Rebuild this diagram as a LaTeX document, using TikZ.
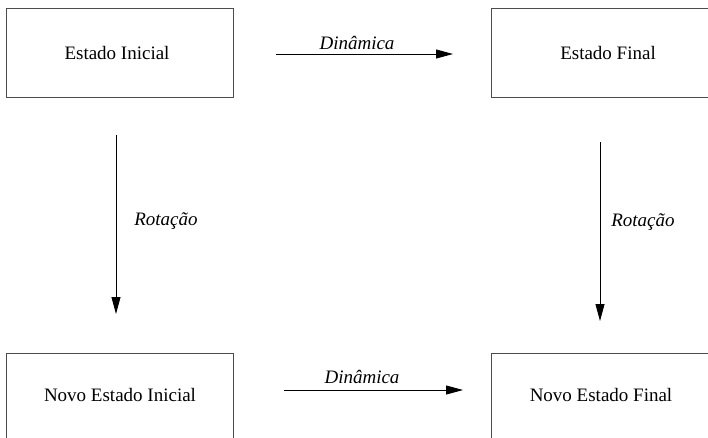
\documentclass[tikz,border=0pt]{standalone}
\usepackage{fontspec}
\setmainfont{Liberation Serif}
\usetikzlibrary{arrows.meta}
\begin{document}
\begin{tikzpicture}[x=1pt,y=-1pt,
  statebox/.style={draw=black!70, line width=1pt, rectangle, inner sep=0pt},
  boxtext/.style={font=\fontsize{19}{22}\selectfont, inner sep=0pt},
  flow/.style={line width=0.9pt, -{Triangle[length=17pt,width=9pt]}},
  lbl/.style={font=\fontsize{19}{22}\selectfont\itshape, inner sep=0pt}]
\useasboundingbox (0,0) rectangle (708,437);
\clip (0,0) rectangle (708,437);
\fill[white] (0,0) rectangle (708,437);
% boxes
\node[statebox, minimum width=227pt, minimum height=89pt] (ei) at (119.5,52.5) {};
\node[boxtext] (tei) at (117,53) {Estado Inicial};
\node[statebox, minimum width=234pt, minimum height=89pt] (ef) at (608,52.5) {};
\node[boxtext] (tef) at (608,53) {Estado Final};
\node[statebox, minimum width=227pt, minimum height=90pt] (nei) at (119.5,398) {};
\node[boxtext] (tnei) at (120,395) {Novo Estado Inicial};
\node[statebox, minimum width=234pt, minimum height=90pt] (nef) at (608,398) {};
\node[boxtext] (tnef) at (601,395) {Novo Estado Final};
% arrow endpoints
\coordinate (d1s) at (276,54);
\coordinate (d1e) at (453,54);
\coordinate (d2s) at (284,390);
\coordinate (d2e) at (463,390);
\coordinate (r1s) at (116,135);
\coordinate (r1e) at (116,314);
\coordinate (r2s) at (600,142);
\coordinate (r2e) at (600,321);
\draw[flow] (d1s) -- (d1e);
\draw[flow] (d2s) -- (d2e);
\draw[flow] (r1s) -- (r1e);
\draw[flow] (r2s) -- (r2e);
\node[lbl] (l1) at (357,43) {Dinâmica};
\node[lbl] (l2) at (362,377) {Dinâmica};
\node[lbl] (l3) at (166,221) {Rotação};
\node[lbl] (l4) at (643,222) {Rotação};
\end{tikzpicture}
\end{document}
